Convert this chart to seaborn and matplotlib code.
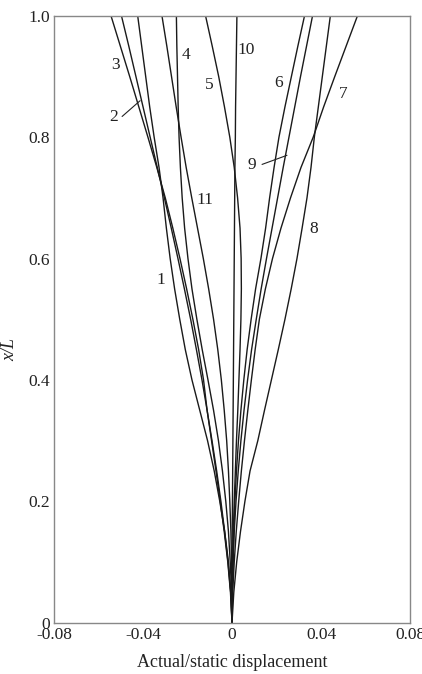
import numpy as np
import pandas as pd
import matplotlib
matplotlib.use("Agg")
import matplotlib.pyplot as plt
import seaborn as sns

# x/L positions shared by all curves
x_over_L = [0, 0.05, 0.1, 0.15, 0.2, 0.25, 0.3, 0.35, 0.4, 0.45, 0.5,
            0.55, 0.6, 0.65, 0.7, 0.75, 0.8, 0.85, 0.9, 0.95, 1.0]

# actual/static displacement for each curve
curve_1 = [0, -0.0005, -0.0016, -0.0033, -0.0055, -0.008, -0.011, -0.0145, -0.018, -0.021, -0.0235,
           -0.0258, -0.0278, -0.0295, -0.031, -0.0328, -0.035, -0.037, -0.0388, -0.0406, -0.0424]
curve_2 = [0, -0.0006, -0.0018, -0.0033, -0.005, -0.0069, -0.009, -0.0112, -0.0135, -0.016, -0.0186,
           -0.0214, -0.0243, -0.0273, -0.0304, -0.0336, -0.0368, -0.04, -0.0432, -0.0464, -0.0497]
curve_3 = [0, -0.0007, -0.0019, -0.0035, -0.0053, -0.0072, -0.0092, -0.0112, -0.0128, -0.015, -0.0176,
           -0.0204, -0.0234, -0.0266, -0.03, -0.0338, -0.0378, -0.0419, -0.046, -0.0502, -0.0544]
curve_4 = [0, -0.0002, -0.0008, -0.0016, -0.0028, -0.0043, -0.0061, -0.0083, -0.0108, -0.0134, -0.0158,
           -0.018, -0.0198, -0.0213, -0.0224, -0.0232, -0.0238, -0.0242, -0.0245, -0.0248, -0.025]
curve_5 = [0, 0.0001, 0.0003, 0.0006, 0.001, 0.0015, 0.002, 0.0026, 0.0031, 0.0036, 0.004,
           0.0042, 0.0041, 0.0036, 0.0025, 0.001, -0.001, -0.0034, -0.006, -0.0089, -0.0119]
curve_6 = [0, 0.0001, 0.0004, 0.0008, 0.0013, 0.002, 0.0029, 0.004, 0.0053, 0.0068, 0.0086,
           0.0106, 0.0130, 0.0151, 0.0169, 0.0189, 0.0211, 0.0238, 0.0267, 0.0296, 0.0326]
curve_7 = [0, 0.0003, 0.001, 0.0019, 0.003, 0.0042, 0.0056, 0.0071, 0.0087, 0.0104, 0.0123,
           0.015, 0.0182, 0.022, 0.0263, 0.031, 0.0365, 0.0412, 0.0462, 0.0513, 0.0564]
curve_8 = [0, 0.0008, 0.0021, 0.0038, 0.0058, 0.0081, 0.0116, 0.0146, 0.0177, 0.0208, 0.0238,
           0.0266, 0.0292, 0.0315, 0.0337, 0.0355, 0.037, 0.0388, 0.0406, 0.0424, 0.0442]
curve_9 = [0, 0.0001, 0.0005, 0.001, 0.0018, 0.0028, 0.004, 0.0054, 0.007, 0.0088, 0.0109,
           0.0131, 0.0155, 0.018, 0.0205, 0.023, 0.0256, 0.0282, 0.0308, 0.0335, 0.0362]
curve_10 = [0, 0.0, 0.00005, 0.0001, 0.0002, 0.0003, 0.0004, 0.0005, 0.0006, 0.0007, 0.0008,
            0.0009, 0.001, 0.0011, 0.0012, 0.0013, 0.0015, 0.0016, 0.0018, 0.002, 0.0022]
curve_11 = [0, -0.00005, -0.0002, -0.0005, -0.001, -0.0016, -0.0024, -0.0035, -0.0048, -0.0064, -0.0083,
            -0.0105, -0.0129, -0.0155, -0.0181, -0.0206, -0.0229, -0.0251, -0.0272, -0.0293, -0.0315]

curves = {"1": curve_1, "2": curve_2, "3": curve_3, "4": curve_4, "5": curve_5, "6": curve_6,
          "7": curve_7, "8": curve_8, "9": curve_9, "10": curve_10, "11": curve_11}

# label text -> (x, y) of the number in data coords
label_pos = {"1": (-0.0322, 0.564), "2": (-0.0533, 0.833), "3": (-0.0524, 0.919),
             "4": (-0.0205, 0.935), "5": (-0.0102, 0.886), "6": (0.0208, 0.889),
             "7": (0.050, 0.871), "8": (0.0365, 0.649), "9": (0.0091, 0.754),
             "10": (0.0064, 0.943), "11": (-0.012, 0.696)}
# leader lines for 2 and 9
leaders = [((-0.0494, 0.834), (-0.0413, 0.860)), ((0.0135, 0.755), (0.0247, 0.770))]

x_ticks = [-0.08, -0.04, 0, 0.04, 0.08]
x_tick_labels = ["-0.08", "-0.04", "0", "0.04", "0.08"]
y_ticks = [0, 0.2, 0.4, 0.6, 0.8, 1.0]
y_tick_labels = ["0", "0.2", "0.4", "0.6", "0.8", "1.0"]

rows = []
for name, vals in curves.items():
    for xv, yv in zip(vals, x_over_L):
        rows.append((name, xv, yv))
df = pd.DataFrame(rows, columns=["curve", "disp", "xL"])

sns.set_style("white")
plt.rcParams["font.family"] = ["Liberation Serif", "DejaVu Serif"]

fig = plt.figure(figsize=(4.22, 6.74), dpi=100)
ax = fig.add_axes([0.128, 0.0761, 0.8436, 0.9006])

sns.lineplot(data=df, x="disp", y="xL", units="curve", estimator=None, sort=False,
             orient="y", color="#1a1a1a", linewidth=1.0, ax=ax)

for txt, (lx, ly) in label_pos.items():
    ax.text(lx, ly, txt, fontsize=12.5, ha="center", va="center", color="#222222")
for (x0, y0), (x1, y1) in leaders:
    ax.plot([x0, x1], [y0, y1], color="#222222", linewidth=0.8)

ax.set_xlim(-0.08, 0.08)
ax.set_ylim(0, 1.0)
ax.set_xticks(x_ticks)
ax.set_xticklabels(x_tick_labels)
ax.set_yticks(y_ticks)
ax.set_yticklabels(y_tick_labels)
ax.tick_params(direction="in", length=8, width=1, color="#333333", labelsize=12.5,
               labelcolor="#222222", pad=3)
ax.set_xlabel("Actual/static displacement", fontsize=13, color="#222222", labelpad=8)
ax.set_ylabel("x/L", fontsize=13, style="italic", color="#222222")
ax.yaxis.set_label_coords(-0.1, 0.45)

for s in ax.spines.values():
    s.set_color("#888888")
    s.set_linewidth(1.0)

fig.savefig("out.png", dpi=100)
